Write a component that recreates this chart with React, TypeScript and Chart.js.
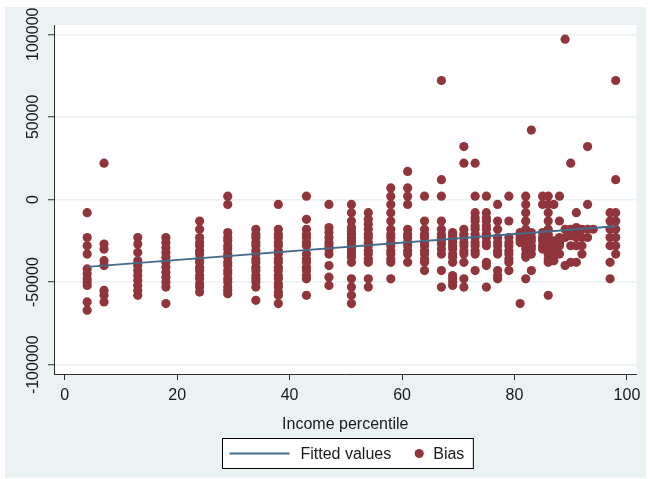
import React, { useEffect, useRef } from 'react';
import { Chart, registerables } from 'chart.js';

Chart.register(...registerables);

// ---- axis ticks ----
const xTicks = [0, 20, 40, 60, 80, 100];
const yTicks = [-100000, -50000, 0, 50000, 100000];
const xLabel = 'Income percentile';

// ---- fitted line (lfit) ----
const fittedX = [4, 98];
const fittedY = [-40800, -16200];

// ---- Bias values per income percentile ----
const p04 = [-8000, -23000, -28000, -33000, -42000, -45000, -48000, -50000, -52000, -62000, -67000];
const p07 = [22000, -27000, -30000, -37000, -40000, -55000, -58000, -62000];
const p13 = [-23000, -27000, -32000, -37000, -40000, -43000, -46000, -49000, -52000, -55000, -58000];
const p18 = [-23000, -26000, -29000, -32000, -35000, -38000, -41000, -44000, -47000, -50000, -53000, -63000];
const p24 = [-13000, -18000, -23000, -26000, -28000, -31000, -33000, -36000, -38000, -41000, -43000, -46000, -48000, -51000, -53000, -56000];
const p29 = [2000, -3000, -20000, -23000, -25000, -28000, -30000, -33000, -35000, -38000, -40000, -43000, -45000, -48000, -50000, -53000, -55000, -57000];
const p34 = [-18000, -21000, -23000, -26000, -28000, -31000, -33000, -36000, -38000, -41000, -43000, -46000, -48000, -50000, -53000, -61000];
const p38 = [-3000, -18000, -21000, -23000, -26000, -28000, -31000, -33000, -36000, -38000, -41000, -43000, -46000, -48000, -51000, -53000, -56000, -58000, -63000];
const p43 = [2000, -12000, -18000, -21000, -23000, -26000, -28000, -33000, -36000, -38000, -41000, -43000, -46000, -48000, -58000];
const p47 = [-3000, -17000, -20000, -23000, -26000, -28000, -30000, -33000, -40000, -47000, -52000];
const p51 = [-3000, -8000, -13000, -17000, -19000, -21000, -23000, -25000, -27000, -29000, -31000, -33000, -35000, -38000, -48000, -53000, -58000, -63000];
const p54 = [-8000, -12000, -15000, -18000, -21000, -23000, -26000, -28000, -31000, -33000, -36000, -38000, -48000, -53000];
const p58 = [7000, 2000, -3000, -8000, -13000, -18000, -21000, -23000, -26000, -28000, -31000, -33000, -36000, -38000, -48000];
const p61 = [17000, 7000, 2000, -3000, -18000, -21000, -23000, -26000, -28000, -31000, -33000, -38000];
const p64 = [2000, -13000, -18000, -21000, -23000, -26000, -28000, -31000, -33000, -36000, -38000, -43000];
const p67 = [72000, 12000, 2000, -13000, -18000, -21000, -23000, -25000, -27000, -30000, -33000, -43000, -53000];
const p69 = [-20000, -22000, -24000, -26000, -28000, -30000, -33000, -35000, -38000, -46000, -48000, -50000, -52000];
const p71 = [32000, 22000, -18000, -21000, -23000, -26000, -28000, -31000, -33000, -38000, -48000, -53000];
const p73 = [22000, 2000, -8000, -11000, -13000, -16000, -18000, -21000, -23000, -26000, -28000, -31000, -33000, -43000];
const p75 = [2000, -8000, -11000, -13000, -16000, -18000, -21000, -23000, -26000, -28000, -38000, -40000, -53000];
const p77 = [-3000, -13000, -18000, -23000, -26000, -28000, -31000, -33000, -43000, -46000, -48000];
const p79 = [2000, -13000, -23000, -26000, -28000, -31000, -33000, -36000, -38000, -43000];
const p81 = [-20000, -22000, -24000, -26000, -63000];
const p82 = [2000, -3000, -8000, -13000, -18000, -20000, -22000, -24000, -26000, -28000, -30000, -33000, -35000, -48000];
const p83 = [42000, -20000, -23000, -25000, -28000, -30000, -33000, -43000];
const p85 = [2000, -3000, -20000, -23000, -25000, -28000, -30000];
const p86 = [2000, -3000, -8000, -13000, -18000, -21000, -23000, -26000, -28000, -31000, -33000, -36000, -38000, -58000];
const p87 = [-3000, -25000, -28000, -31000, -35000, -37000];
const p88 = [2000, -13000, -23000, -26000, -28000, -33000];
const p89 = [97000, -18000, -23000, -40000];
const p90 = [22000, -18000, -22000, -28000, -38000];
const p91 = [-8000, -17000, -20000, -23000, -28000, -38000];
const p92 = [-18000, -23000, -28000, -33000];
const p93 = [32000, -3000, -18000, -23000];
const p94 = [-18000];
const p97 = [-8000, -13000, -18000, -23000, -28000, -38000, -48000];
const p98 = [72000, 12000, -8000, -13000, -18000, -23000, -28000, -33000];

const percentiles = [4, 7, 13, 18, 24, 29, 34, 38, 43, 47, 51, 54, 58, 61, 64, 67, 69, 71, 73, 75, 77, 79, 81, 82, 83, 85, 86, 87, 88, 89, 90, 91, 92, 93, 94, 97, 98];
const biasColumns = [p04, p07, p13, p18, p24, p29, p34, p38, p43, p47, p51, p54, p58, p61, p64, p67, p69, p71, p73, p75, p77, p79, p81, p82, p83, p85, p86, p87, p88, p89, p90, p91, p92, p93, p94, p97, p98];

// ---- styles ----
const FONT = "'Liberation Sans', Arial, Helvetica, sans-serif";
const TEXT = '#1a1a1a';
const AXIS = '#2e2e2e';
const GRID = '#eaf2f3';
const OUTER = '#eaf2f3';
const MAROON = '#90353b';
const NAVY = '#446b8b';

const backgroundPlugin = {
  id: 'stataBackground',
  beforeDraw(chart: any) {
    const { ctx, width, height, chartArea } = chart;
    ctx.save();
    ctx.fillStyle = '#ffffff';
    ctx.fillRect(0, 0, width, height);
    ctx.fillStyle = OUTER;
    ctx.fillRect(5, 7, width - 9, height - 8);
    ctx.fillStyle = '#ffffff';
    ctx.fillRect(chartArea.left, chartArea.top, chartArea.right - chartArea.left, chartArea.bottom - chartArea.top);
    ctx.restore();
  },
};

const legendPlugin = {
  id: 'stataLegend',
  afterDraw(chart: any) {
    const { ctx, chartArea } = chart;
    const ds = chart.data.datasets;
    ctx.save();
    ctx.font = `16px ${FONT}`;
    const t1 = ds[0].label as string;
    const t2 = ds[1].label as string;
    const w1 = ctx.measureText(t1).width;
    const w2 = ctx.measureText(t2).width;
    const padL = 7, lineW = 60, gap1 = 11, gap2 = 28, gap3 = 14, padR = 9;
    const boxW = padL + lineW + gap1 + w1 + gap2 + gap3 + w2 + padR;
    const boxH = 30;
    const cx = (chartArea.left + chartArea.right) / 2 + 2;
    const left = Math.round(cx - boxW / 2) + 0.5;
    const top = 438.5;
    const midY = top + boxH / 2;
    ctx.fillStyle = '#ffffff';
    ctx.fillRect(left, top, boxW, boxH);
    ctx.strokeStyle = '#000000';
    ctx.lineWidth = 1;
    ctx.strokeRect(left, top, boxW, boxH);
    // line symbol
    let x = left + padL;
    ctx.strokeStyle = ds[0].borderColor;
    ctx.lineWidth = ds[0].borderWidth;
    ctx.beginPath();
    ctx.moveTo(x, midY);
    ctx.lineTo(x + lineW, midY);
    ctx.stroke();
    x += lineW + gap1;
    ctx.fillStyle = TEXT;
    ctx.textBaseline = 'middle';
    ctx.textAlign = 'left';
    ctx.fillText(t1, x, midY + 1);
    x += w1 + gap2;
    ctx.fillStyle = ds[1].backgroundColor;
    ctx.beginPath();
    ctx.arc(x, midY, 4.6, 0, Math.PI * 2);
    ctx.fill();
    x += gap3;
    ctx.fillStyle = TEXT;
    ctx.fillText(t2, x, midY + 1);
    ctx.restore();
  },
};

export default function App() {
  const canvasRef = useRef<HTMLCanvasElement | null>(null);

  useEffect(() => {
    document.body.style.margin = '0';
    const canvas = canvasRef.current;
    if (!canvas) return;

    const biasPoints = percentiles.flatMap((p, i) => biasColumns[i].map((v) => ({ x: p, y: v })));
    const fittedPoints = fittedX.map((x, i) => ({ x, y: fittedY[i] }));

    const chart = new Chart(canvas, {
      type: 'scatter',
      data: {
        datasets: [
          {
            label: 'Fitted values',
            data: fittedPoints,
            showLine: true,
            pointRadius: 0,
            borderColor: NAVY,
            backgroundColor: NAVY,
            borderWidth: 1.8,
          },
          {
            label: 'Bias',
            data: biasPoints,
            pointRadius: 4.6,
            pointBackgroundColor: MAROON,
            backgroundColor: MAROON,
            pointBorderColor: MAROON,
            pointBorderWidth: 0,
            borderColor: MAROON,
          },
        ],
      },
      options: {
        responsive: false,
        animation: false,
        events: [],
        layout: { padding: { top: 25, right: 13.5, bottom: 39, left: 0 } },
        plugins: {
          legend: { display: false },
          tooltip: { enabled: false },
        },
        scales: {
          x: {
            type: 'linear',
            min: -1.9,
            max: 101.7,
            afterBuildTicks: (s: any) => {
              s.ticks = xTicks.map((v) => ({ value: v }));
            },
            afterFit: (s: any) => {
              s.height = 66;
            },
            grid: { drawOnChartArea: false, tickLength: 6, tickColor: AXIS, tickWidth: 1 },
            border: { color: AXIS, width: 1 },
            ticks: {
              font: { family: FONT, size: 16 },
              color: TEXT,
              padding: 6,
              maxRotation: 0,
              autoSkip: false,
              callback: (v: any) => String(v),
            },
            title: {
              display: true,
              text: xLabel,
              font: { family: FONT, size: 16 },
              color: TEXT,
              padding: { top: 4, bottom: 6 },
            },
          },
          y: {
            type: 'linear',
            min: -105600,
            max: 105600,
            afterBuildTicks: (s: any) => {
              s.ticks = yTicks.map((v) => ({ value: v }));
            },
            afterFit: (s: any) => {
              s.width = 54;
            },
            grid: { color: GRID, lineWidth: 1.5, tickColor: AXIS, tickLength: 6, tickWidth: 1 },
            border: { color: AXIS, width: 1 },
            ticks: {
              font: { family: FONT, size: 16 },
              color: TEXT,
              minRotation: 90,
              maxRotation: 90,
              crossAlign: 'center',
              padding: -15,
              autoSkip: false,
              callback: (v: any) => String(v),
            },
          },
        },
      },
      plugins: [backgroundPlugin, legendPlugin],
    } as any);

    return () => chart.destroy();
  }, []);

  return (
    <div style={{ width: 650, height: 479 }}>
      <canvas ref={canvasRef} width={650} height={479} style={{ display: 'block' }} />
    </div>
  );
}
